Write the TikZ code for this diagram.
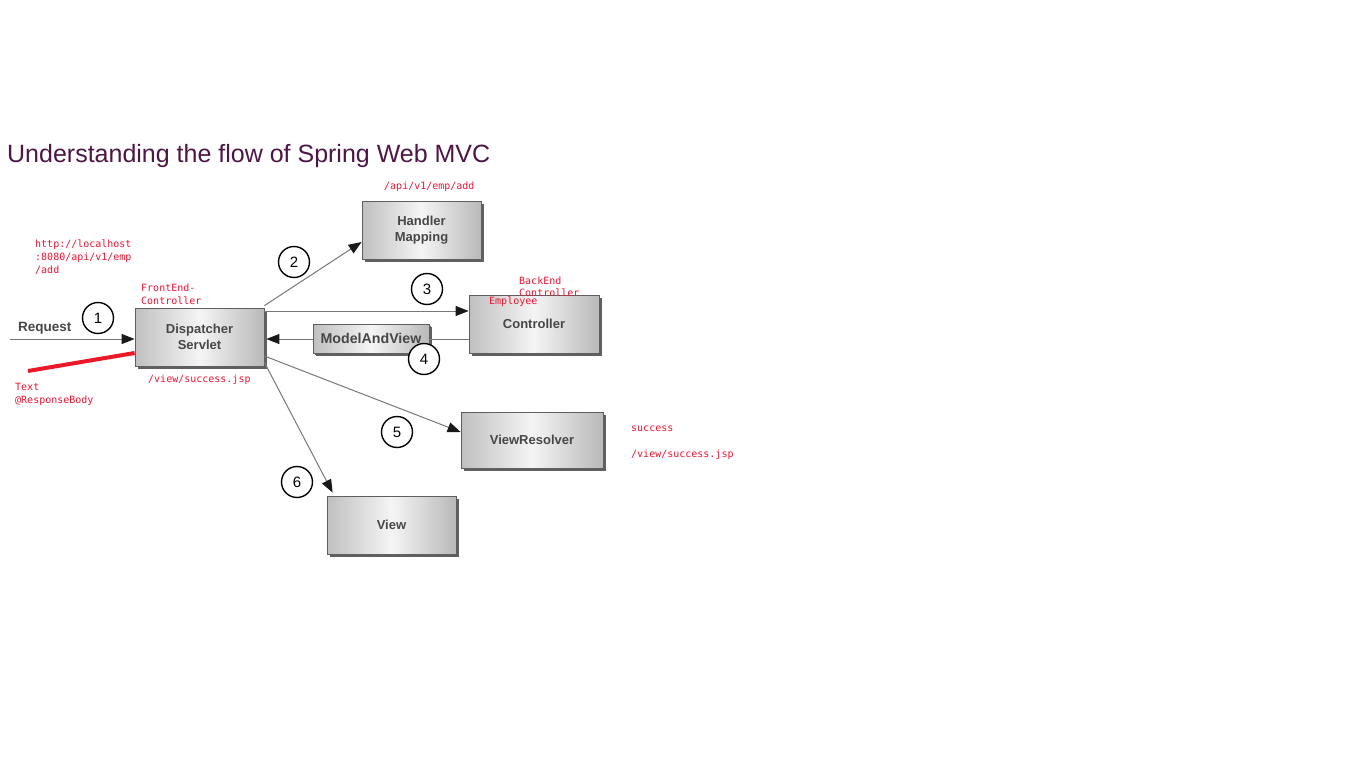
\documentclass[tikz,border=0pt]{standalone}
\usepackage{fontspec}
\setmainfont{Liberation Sans}
\newfontfamily\monofont{DejaVu Sans Mono}
\usetikzlibrary{shadows,arrows.meta}
\definecolor{titlecol}{RGB}{78,22,70}
\definecolor{redtxt}{RGB}{240,20,50}
\definecolor{redline}{RGB}{235,25,40}
\definecolor{boxborder}{RGB}{95,95,95}
\definecolor{linecol}{RGB}{120,120,120}
\tikzset{
  comp/.style={draw=boxborder, line width=0.8pt, left color=gray!50, right color=gray!55, middle color=gray!8,
    drop shadow={shadow xshift=2.5pt, shadow yshift=-2.5pt, fill=gray!75!black, opacity=1},
    font=\bfseries\fontsize{13}{16}\selectfont, text=black!72, align=center, inner sep=0pt},
  num/.style={circle, draw=black, line width=1.4pt, minimum size=31pt, inner sep=0pt, fill=white, font=\fontsize{15}{15}\selectfont},
  flow/.style={draw=linecol, line width=1pt, -{Triangle[length=13pt,width=10pt,color=black!90]}},
  plain/.style={draw=linecol, line width=1pt},
  note/.style={font=\monofont\fontsize{10}{12}\selectfont, text=redtxt, anchor=west, inner sep=0pt, text height=7pt, text depth=2pt},
}
\begin{document}
\begin{tikzpicture}[x=1pt,y=-1pt]
\useasboundingbox (0,0) rectangle (1366,768);
\fill[white] (0,0) rectangle (1366,768);
% title
\node[anchor=base west, inner sep=0pt, font=\fontsize{25}{28}\selectfont, text=titlecol] (title) at (7,162.5) {Understanding the flow of Spring Web MVC};
% components
\node[comp, minimum width=129pt, minimum height=58pt] (disp) at (199.5,337) {Dispatcher\\Servlet};
\node[comp, minimum width=119pt, minimum height=58pt] (hm) at (421.5,230) {Handler\\Mapping};
\node[comp, minimum width=130pt, minimum height=58pt] (ctrl) at (534,324) {Controller};
\node[comp, minimum width=142pt, minimum height=56pt] (vr) at (532,440) {ViewResolver};
\node[comp, minimum width=129pt, minimum height=58pt] (view) at (391.5,525) {View};
% connectors
\coordinate (req) at (10,339);
\draw[flow] (req) -- (disp.west |- req);
\node[anchor=base west, inner sep=0pt, font=\bfseries\fontsize{13.5}{15}\selectfont, text=black!72] (reqlbl) at (18,331) {Request};
\draw[flow] ([yshift=2pt]disp.north east) -- ([yshift=-12pt]hm.west);
\draw[flow] ([yshift=26pt]disp.east) -- ([yshift=13pt]ctrl.west);
\node[comp, minimum width=116pt, minimum height=29pt, font=\bfseries\fontsize{14.2}{16}\selectfont, drop shadow={shadow xshift=1.5pt, shadow yshift=-1.5pt, fill=gray!75!black, opacity=1}] (mav) at (371,338.5) {ModelAndView};
\draw[plain] ([yshift=-15pt]ctrl.west) -- (mav.east |- 0,339);
\draw[flow] (mav.west |- 0,339) -- ([xshift=2pt]disp.east |- 0,339);
\draw[flow] ([yshift=-19pt]disp.east) -- ([yshift=8pt]vr.west);
\draw[flow] ([yshift=4pt]disp.south east) -- ([xshift=6pt,yshift=3pt]view.north west);
% red line
\coordinate (redstart) at (28,371);
\draw[redline, line width=4pt] (redstart) -- ([yshift=-16pt]disp.west);
% numbers
\node[num] (n1) at (98,318) {1};
\node[num] (n2) at (294,262) {2};
\node[num] (n3) at (427,289) {3};
\node[num] (n4) at (424,359) {4};
\node[num] (n5) at (397,432) {5};
\node[num] (n6) at (297,482) {6};
% notes
\node[note] (t1) at (384,186.5) {/api/v1/emp/add};
\node[note] (t2a) at (35,244.5) {http://localhost};
\node[note] (t2b) at (35,257.5) {:8080/api/v1/emp};
\node[note] (t2c) at (35,270.5) {/add};
\node[note] (t3a) at (141,288.5) {FrontEnd-};
\node[note] (t3b) at (141,301.5) {Controller};
\node[note] (t4) at (148,379.5) {/view/success.jsp};
\node[note] (t5a) at (15,387.5) {Text};
\node[note] (t5b) at (15,400.5) {@ResponseBody};
\node[note] (t6a) at (519,281.5) {BackEnd};
\node[note] (t6b) at (519,293.5) {Controller};
\node[note] (t7) at (489,301.5) {Employee};
\node[note] (t8a) at (631,428.5) {success};
\node[note] (t8b) at (631,454.5) {/view/success.jsp};
\end{tikzpicture}
\end{document}
